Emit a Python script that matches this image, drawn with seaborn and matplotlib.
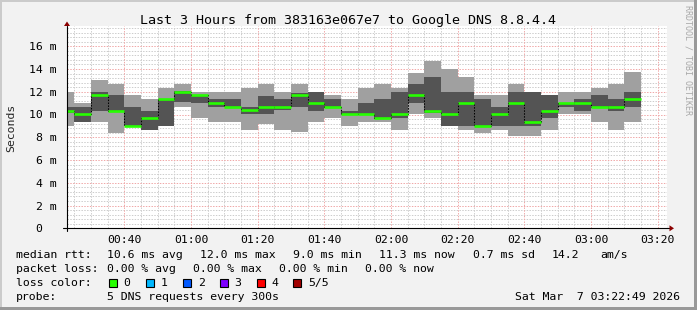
import numpy as np
import pandas as pd
import matplotlib
matplotlib.use("Agg")
import matplotlib.pyplot as plt
import seaborn as sns
from matplotlib.lines import Line2D
from matplotlib.patches import Rectangle, Polygon
from matplotlib.ticker import FixedLocator, FuncFormatter, MultipleLocator

# ---------------- data ----------------
start_time = "00:22:49"
step_ends = ["00:25", "00:30", "00:35", "00:40", "00:45", "00:50", "00:55",
             "01:00", "01:05", "01:10", "01:15", "01:20", "01:25", "01:30",
             "01:35", "01:40", "01:45", "01:50", "01:55", "02:00", "02:05",
             "02:10", "02:15", "02:20", "02:25", "02:30", "02:35", "02:40",
             "02:45", "02:50", "02:55", "03:00", "03:05", "03:10", "03:15"]
# sorted pings per step (ms): max, 4th, median, 2nd, min
ping_max = [12.0, 11.0, 13.0, 12.65, 11.7, 11.35, 12.35, 12.67, 11.97, 12.0,
            12.0, 12.35, 12.65, 12.0, 12.65, 12.0, 11.7, 11.33, 12.35, 12.65,
            12.35, 13.65, 14.67, 14.0, 13.3, 11.7, 11.7, 12.67, 12.0, 11.7,
            12.0, 12.0, 12.35, 12.65, 13.7]
ping_upper = [10.7, 10.7, 12.0, 11.7, 10.7, 10.3, 11.4, 12.05, 11.74, 11.32,
              11.32, 10.68, 11.65, 11.33, 11.9, 12.0, 11.33, 10.3, 11.03, 11.35,
              12.0, 12.65, 13.3, 12.0, 12.0, 11.35, 10.68, 12.0, 12.0, 11.7,
              11.05, 11.33, 11.7, 11.33, 12.0]
ping_median = [10.3, 10.05, 11.7, 10.3, 9.0, 9.73, 11.37, 12.0, 11.68, 11.03,
               10.68, 10.38, 10.66, 10.66, 11.68, 11.03, 10.68, 10.05, 10.05, 9.72,
               10.05, 11.7, 10.35, 10.05, 11.03, 9.03, 10.05, 11.03, 9.37, 10.35,
               11.03, 11.03, 10.68, 10.68, 11.35]
ping_lower = [10.1, 9.35, 10.3, 10.25, 8.95, 8.65, 9.0, 11.1, 11.0, 10.68,
              10.65, 10.07, 10.03, 10.36, 10.67, 10.33, 10.65, 9.95, 10.0, 9.68,
              9.72, 11.03, 10.15, 9.02, 9.02, 9.0, 9.02, 9.02, 9.02, 9.72,
              10.68, 10.35, 10.65, 10.35, 10.68]
ping_min = [9.0, 9.35, 9.35, 8.4, 8.95, 8.65, 9.0, 10.7, 9.72, 9.37,
            9.37, 8.68, 9.15, 8.64, 8.42, 9.37, 9.72, 9.02, 9.37, 9.37,
            8.68, 10.03, 9.72, 9.02, 8.68, 8.4, 8.68, 8.07, 8.07, 8.68,
            10.03, 10.03, 9.37, 8.68, 9.37]

y_ticks = [0, 2, 4, 6, 8, 10, 12, 14, 16]
x_tick_labels = ["00:40", "01:00", "01:20", "01:40", "02:00", "02:20",
                 "02:40", "03:00", "03:20"]

title = "Last 3 Hours from 383163e067e7 to Google DNS 8.8.4.4"
loss_labels = ["0", "1", "2", "3", "4", "5/5"]
loss_colors = ["#26ff00", "#00b8ff", "#0059ff", "#7e00ff", "#ff0000", "#a10000"]


def to_min(s):
    parts = [int(p) for p in s.split(":")]
    m = parts[0] * 60 + parts[1]
    if len(parts) == 3:
        m += parts[2] / 60.0
    return m


t0 = to_min(start_time)
edges = np.array([t0] + [to_min(s) for s in step_ends])
xticks = [to_min(s) for s in x_tick_labels]

# ---------------- style ----------------
W, H = 697, 310
BG = "#f2f2f2"
LIGHT = "#a0a0a0"
DARK = "#545454"
GREEN = loss_colors[0]
GRID = "#cdcdcd"
MGRID = "#f0a8a8"
ARROW = "#8b0000"

sns.set_theme(style="white")
plt.rcParams["font.family"] = ["DejaVu Sans Mono"]
FS = 8.25

fig = plt.figure(figsize=(W / 100, H / 100), dpi=100, facecolor=BG)


def fx(px):
    return px / W


def fy(py):
    return 1 - py / H


AX_L, AX_R, AX_T, AX_B = 67, 667, 26, 228.3
ax = fig.add_axes([fx(AX_L), fy(AX_B), fx(AX_R) - fx(AX_L), fy(AX_T) - fy(AX_B)])
ax.set_facecolor("white")
ymax = (AX_B - AX_T) / 11.38
ax.set_xlim(t0, t0 + 180)
ax.set_ylim(0, ymax)


def sv(v):
    v = np.asarray(v, dtype=float)
    return np.append(v, v[-1])


# grid (beneath the smoke)
dot = (0, (1.4, 1.4))
for k in range(1, int(ymax / 0.4) + 1):
    y = round(k * 0.4, 2)
    if abs(y / 2 - round(y / 2)) < 1e-6:
        continue
    ax.axhline(y, color=GRID, lw=0.72, ls=dot, zorder=0.6)
for y in y_ticks[1:]:
    ax.axhline(y, color=MGRID, lw=0.72, ls=dot, zorder=0.7)
for xm in range(25, 205, 5):
    if xm % 20 == 0:
        continue
    ax.axvline(xm, color=GRID, lw=0.72, ls=dot, zorder=0.6)
for xm in xticks:
    ax.axvline(xm, color=MGRID, lw=0.72, ls=dot, zorder=0.7)

# smoke
ax.fill_between(edges, sv(ping_min), sv(ping_max), step="post", color=LIGHT, lw=0, zorder=2)
ax.fill_between(edges, sv(ping_lower), sv(ping_upper), step="post", color=DARK, lw=0, zorder=3)

# median line (dotted step connectors) and loss-coloured median segments
df = pd.DataFrame({"t": edges, "median": sv(ping_median)})
sns.lineplot(data=df, x="t", y="median", drawstyle="steps-post", color="black",
             lw=0.75, ls=(0, (1.4, 1.4)), ax=ax, zorder=4, sort=False, legend=False)
ax.hlines(ping_median, edges[:-1], edges[1:], colors=GREEN, lw=1.9, zorder=5,
          capstyle="butt")

# ticks
ax.set_xticks(xticks)
ax.set_xticklabels(x_tick_labels)
ax.yaxis.set_major_locator(FixedLocator(y_ticks))
ax.yaxis.set_major_formatter(FuncFormatter(lambda v, p: f"{int(v)} m" if v > 0 else "0  "))
ax.xaxis.set_minor_locator(MultipleLocator(10))
ax.tick_params(axis="y", which="major", direction="out", length=2.5, width=0.72,
               color="black", labelsize=FS, pad=5.0, labelcolor="black")
ax.tick_params(axis="x", which="major", direction="out", length=2.0, width=0.72,
               color="black", labelsize=FS, pad=3.0, labelcolor="black")
ax.tick_params(axis="x", which="minor", direction="out", length=1.5, width=0.72,
               color="black")
ax.set_xlabel("")
ax.set_ylabel("")
for s in ax.spines.values():
    s.set_visible(False)

# axes lines with arrows (figure pixel coords)
def line(x0, y0, x1, y1, **kw):
    fig.add_artist(Line2D([fx(x0), fx(x1)], [fy(y0), fy(y1)], transform=fig.transFigure, **kw))


line(63, AX_B, 670, AX_B, color="black", lw=0.8, zorder=10)
line(AX_L, 231, AX_L, 25.5, color="black", lw=0.8, zorder=10)
fig.add_artist(Polygon([[fx(669.5), fy(AX_B - 3)], [fx(674), fy(AX_B)], [fx(669.5), fy(AX_B + 3)]],
                       closed=True, transform=fig.transFigure, color=ARROW, lw=0, zorder=11))
fig.add_artist(Polygon([[fx(AX_L - 3), fy(26)], [fx(AX_L), fy(21.5)], [fx(AX_L + 3), fy(26)]],
                       closed=True, transform=fig.transFigure, color=ARROW, lw=0, zorder=11))

# texts
fig.text(fx(348.5), fy(24), title, ha="center", va="baseline", fontsize=9.6, color="black")
fig.text(fx(11), fy(128), "Seconds", rotation=90, ha="center", va="center", fontsize=FS)
fig.text(fx(688), fy(5), "RRDTOOL / TOBI OETIKER", rotation=270, ha="center", va="top",
         fontsize=6, color="#a8a8a8")

rows = [
    (258.3, [(16, "median rtt:"), (107.3, "10.6 ms avg"), (200, "12.0 ms max"),
             (293, "9.0 ms min"), (379.3, "11.3 ms now"), (472.7, "0.7 ms sd"),
             (551.3, "14.2"), (600, "am/s")]),
    (272.3, [(16, "packet loss:"), (107.3, "0.00 % avg"), (193.3, "0.00 % max"),
             (279.3, "0.00 % min"), (365, "0.00 % now")]),
    (286.3, [(16, "loss color:")]),
    (300.0, [(16, "probe:"), (107.3, "5 DNS requests every 300s")]),
]
for yb, items in rows:
    for xp, s in items:
        fig.text(fx(xp), fy(yb), s, ha="left", va="baseline", fontsize=FS, color="black")
fig.text(fx(680), fy(300), "Sat Mar  7 03:22:49 2026", ha="right", va="baseline",
         fontsize=FS, color="black")

box_x = [109, 146, 182.7, 219.7, 256.7, 293.3]
lab_x = [123.3, 160.7, 197.7, 234.3, 271, 308]
for bx, lx, lab, col in zip(box_x, lab_x, loss_labels, loss_colors):
    fig.add_artist(Rectangle((fx(bx), fy(286.5)), fx(8), 8 / H, transform=fig.transFigure,
                             facecolor=col, edgecolor="black", lw=0.8))
    fig.text(fx(lx), fy(286.3), lab, ha="left", va="baseline", fontsize=FS, color="black")

# frame shading
fig.add_artist(Rectangle((0, fy(2)), 1, 2 / H, transform=fig.transFigure, color="#cbcbcb", lw=0))
fig.add_artist(Rectangle((0, 0), fx(2), 1, transform=fig.transFigure, color="#cbcbcb", lw=0))
fig.add_artist(Rectangle((0, 0), 1, 3 / H, transform=fig.transFigure, color="#999999", lw=0))
fig.add_artist(Rectangle((fx(W - 3), 0), fx(3), 1, transform=fig.transFigure, color="#999999", lw=0))

fig.savefig("out.png", dpi=100, facecolor=BG)
